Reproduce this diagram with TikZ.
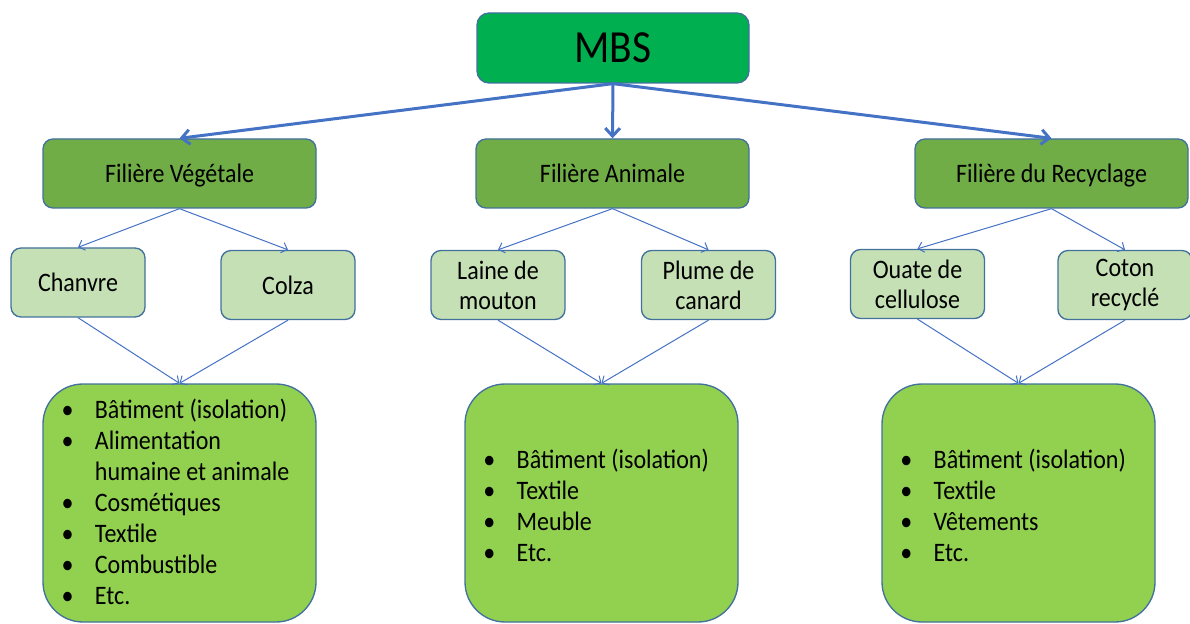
\documentclass[tikz,border=0pt]{standalone}
\usepackage{fontspec}
\setmainfont{Carlito}[FakeStretch=0.9]
\usetikzlibrary{arrows.meta}
\definecolor{mbsgreen}{HTML}{00B050}
\definecolor{filgreen}{HTML}{70AD47}
\definecolor{lightgreen}{HTML}{C5E0B4}
\definecolor{limegreen}{HTML}{92D050}
\definecolor{edgeblue}{HTML}{41719C}
\definecolor{arrowblue}{HTML}{4472C4}
\tikzset{
 box/.style={draw=edgeblue, line width=1pt, rounded corners=7.5pt, text=black, align=center, inner sep=0pt},
 topbox/.style={box, fill=mbsgreen, minimum width=204pt, minimum height=52.5pt, rounded corners=9pt, font=\fontsize{34.5}{40}\selectfont},
 filbox/.style={box, fill=filgreen, minimum width=204.75pt, minimum height=51.75pt, text height=16pt, text depth=1.8pt, font=\fontsize{20}{22}\selectfont},
 itembox/.style={box, fill=lightgreen, minimum width=100.5pt, minimum height=51.75pt, font=\fontsize{20}{22.5}\selectfont},
 usebox/.style={box, fill=limegreen, minimum width=204.75pt, minimum height=178.5pt, rounded corners=30pt, font=\fontsize{20}{23.25}\selectfont},
 bigarrow/.style={draw=arrowblue, line width=2.25pt, -{Straight Barb[length=6pt,width=11pt]}},
 smallarrow/.style={draw=arrowblue, line width=0.75pt, -{Straight Barb[length=4pt,width=8pt]}},
}
\newcommand{\dropby}[2]{\raisebox{-#1}[\height][\depth]{#2}}
\newcommand{\listshift}[3]{\hspace*{#1}\dropby{#2}{#3}}
\begin{document}
\begin{tikzpicture}[x=0.75pt,y=-0.75pt]
\useasboundingbox (0,0) rectangle (1190,624);
% top
\node[topbox] (mbs) at (613,48) {MBS};
% filieres
\node[filbox] (veg) at (179.5,173.5) {Filière Végétale};
\node[filbox] (ani) at (612.5,173.5) {Filière Animale};
\node[filbox] (rec) at (1051.5,173.5) {Filière du Recyclage};
% items
\node[itembox] (chanvre) at (78,282.5) {Chanvre};
\node[itembox] (colza) at (288,285) {Colza};
\node[itembox] (laine) at (498,285) {Laine de\\mouton};
\node[itembox] (plume) at (708.5,285) {Plume de\\canard};
\node[itembox] (ouate) at (917.5,284) {Ouate de\\cellulose};
\node[itembox] (coton) at (1125,285) {Coton\\recyclé};
% uses
\node[usebox] (usevg) at (179.5,503) {\listshift{-6pt}{2pt}{\begin{tabular}{@{}l@{\hspace{16pt}}l@{}}
\textbullet & Bâtiment (isolation)\\
\textbullet & Alimentation\\
 & humaine et animale\\
\textbullet & Cosmétiques\\
\textbullet & Textile\\
\textbullet & Combustible\\
\textbullet & Etc.
\end{tabular}}};
\node[usebox] (usean) at (601.5,503) {\listshift{-8pt}{4.5pt}{\begin{tabular}{@{}l@{\hspace{16pt}}l@{}}
\textbullet & Bâtiment (isolation)\\
\textbullet & Textile\\
\textbullet & Meuble\\
\textbullet & Etc.
\end{tabular}}};
\node[usebox] (usere) at (1018.5,503) {\listshift{-8pt}{4.5pt}{\begin{tabular}{@{}l@{\hspace{16pt}}l@{}}
\textbullet & Bâtiment (isolation)\\
\textbullet & Textile\\
\textbullet & Vêtements\\
\textbullet & Etc.
\end{tabular}}};
% big arrows
\draw[bigarrow] (mbs.south) -- (veg.north);
\draw[bigarrow] (mbs.south) -- (ani.north);
\draw[bigarrow] (mbs.south) -- (rec.north);
% small arrows
\draw[smallarrow] (veg.south) -- (chanvre.north);
\draw[smallarrow] (veg.south) -- (colza.north);
\draw[smallarrow] (ani.south) -- (laine.north);
\draw[smallarrow] (ani.south) -- (plume.north);
\draw[smallarrow] (rec.south) -- (ouate.north);
\draw[smallarrow] (rec.south) -- (coton.north);
\draw[smallarrow] (chanvre.south) -- (usevg.north);
\draw[smallarrow] (colza.south) -- (usevg.north);
\draw[smallarrow] (laine.south) -- (usean.north);
\draw[smallarrow] (plume.south) -- (usean.north);
\draw[smallarrow] (ouate.south) -- (usere.north);
\draw[smallarrow] (coton.south) -- (usere.north);
\end{tikzpicture}
\end{document}
